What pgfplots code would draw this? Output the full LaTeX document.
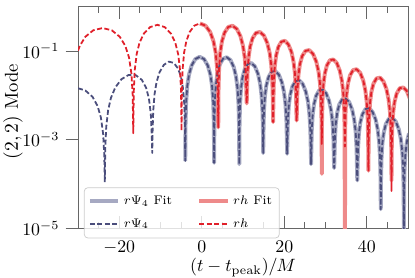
\documentclass[border=0pt]{standalone}
\usepackage{pgfplots}
\pgfplotsset{compat=1.18}
\usepackage{pgfplotstable}
\usetikzlibrary{calc}
\definecolor{psifit}{HTML}{A6A9C2}
\definecolor{psidat}{HTML}{4B4E7C}
\definecolor{hfit}{HTML}{EE8A8A}
\definecolor{hdat}{HTML}{E0202A}

% r h : data (y) and fit (yf)
\pgfplotstableread{
t y yf
-30.00 0.102 nan
-29.56 0.131 nan
-28.22 0.210 nan
-26.29 0.294 nan
-24.05 0.330 nan
-21.82 0.294 nan
-19.88 0.210 nan
-18.54 0.131 nan
-17.64 0.072 nan
-17.05 0.031 nan
-16.75 0.0104 nan
-16.60 0.0014 nan
-16.48 0.0122 nan
-16.25 0.0367 nan
-15.78 0.085 nan
-15.08 0.155 nan
-14.03 0.248 nan
-12.51 0.347 nan
-10.75 0.390 nan
-8.99 0.347 nan
-7.47 0.248 nan
-6.42 0.155 nan
-5.72 0.085 nan
-5.25 0.0367 nan
-5.02 0.0122 nan
-4.90 0.0016 nan
-4.81 0.0132 nan
-4.63 0.0395 nan
-4.28 0.0916 nan
-3.74 0.167 nan
-2.94 0.268 nan
-1.79 0.374 nan
-0.45 0.420 0.420
0.89 0.374 0.374
2.04 0.268 0.268
2.84 0.167 0.167
3.38 0.0916 0.0916
3.73 0.0395 0.0395
3.91 0.0132 0.0132
4.00 0.0019 0.0019
4.07 0.0137 0.0137
4.21 0.0406 0.0406
4.48 0.0928 0.0928
4.90 0.166 0.166
5.52 0.259 0.259
6.42 0.348 0.348
7.45 0.372 0.372
8.49 0.316 0.316
9.38 0.216 0.216
10.00 0.131 0.131
10.42 0.0707 0.0707
10.69 0.0301 0.0301
10.83 0.0100 0.0100
10.90 0.0066 0.0066
10.96 0.0105 0.0105
11.09 0.0312 0.0312
11.35 0.0710 0.0710
11.73 0.126 0.126
12.31 0.194 0.194
13.14 0.256 0.256
14.10 0.269 0.269
15.06 0.224 0.224
15.89 0.151 0.151
16.47 0.0907 0.0907
16.85 0.0485 0.0485
17.11 0.0206 0.0206
17.24 0.0068 0.0068
17.30 0.0025 0.0025
17.36 0.00669 0.00669
17.47 0.0199 0.0199
17.70 0.0451 0.0451
18.04 0.0799 0.0799
18.55 0.123 0.123
19.30 0.162 0.162
20.15 0.170 0.170
21.00 0.141 0.141
21.75 0.0951 0.0951
22.26 0.0569 0.0569
22.60 0.0304 0.0304
22.83 0.0129 0.0129
22.94 0.00425 0.00425
23.00 0.0027 0.0027
23.06 0.00422 0.00422
23.18 0.0125 0.0125
23.43 0.0283 0.0283
23.79 0.0501 0.0501
24.34 0.0768 0.0768
25.14 0.1006 0.1006
26.05 0.105 0.105
26.97 0.0865 0.0865
27.76 0.0578 0.0578
28.31 0.0345 0.0345
28.67 0.0184 0.0184
28.92 0.00777 0.00777
29.04 0.00257 0.00257
29.10 0.0008 0.00017
29.16 0.00258 0.00258
29.27 0.00765 0.00765
29.49 0.0174 0.0174
29.83 0.0307 0.0307
30.33 0.0472 0.0472
31.06 0.0619 0.0619
31.90 0.0646 0.0646
32.74 0.0535 0.0535
33.47 0.0358 0.0358
33.97 0.0214 0.0214
34.31 0.0114 0.0114
34.53 0.00483 0.00483
34.64 0.0016 0.0016
34.70 0.0007 0.0000001
34.76 0.00154 0.00154
34.87 0.00457 0.00457
35.10 0.0104 0.0104
35.44 0.0184 0.0184
35.95 0.0283 0.0283
36.70 0.0372 0.0372
37.55 0.0389 0.0389
38.40 0.0323 0.0323
39.15 0.0217 0.0217
39.66 0.0130 0.0130
40.00 0.00693 0.00693
40.23 0.00293 0.00293
40.34 0.00097 0.00097
40.40 0.0002 0.0002
40.46 0.0010 0.0010
40.57 0.00297 0.00297
40.79 0.00676 0.00676
41.13 0.0120 0.0120
41.63 0.0184 0.0184
42.36 0.0241 0.0241
43.20 0.0251 0.0251
44.04 0.0208 0.0208
44.77 0.0139 0.0139
45.27 0.0083 0.0083
45.61 0.00443 0.00443
45.83 0.00188 0.00188
45.94 0.00062 0.00062
46.00 0.00007 0.00012
46.06 0.0006 0.0006
46.17 0.00178 0.00178
46.40 0.00404 0.00404
46.74 0.00716 0.00716
47.25 0.0110 0.0110
48.00 0.0145 0.0145
48.85 0.0151 0.0151
49.70 0.01256 0.01256
50.45 0.00844 0.00844
}\htab

% r Psi_4 : data (fit drawn from t >= -4)
\pgfplotstableread{
t y
-30.00 0.01447
-28.23 0.0129
-26.47 0.00924
-25.26 0.00576
-24.45 0.00316
-23.91 0.00136
-23.64 0.000455
-23.50 0.00011
-23.39 0.00064
-23.16 0.00194
-22.70 0.00462
-22.01 0.00879
-20.97 0.0150
-19.48 0.0231
-17.75 0.0288
-16.03 0.0286
-14.53 0.0224
-13.50 0.0149
-12.81 0.00855
-12.35 0.0038
-12.12 0.00128
-12.00 0.0005
-11.92 0.00151
-11.76 0.00455
-11.44 0.0107
-10.96 0.0199
-10.24 0.0331
-9.20 0.0486
-8.00 0.0575
-6.80 0.0542
-5.76 0.0406
-5.04 0.0262
-4.56 0.0147
-4.24 0.00644
-4.08 0.00216
-4.00 0.00033
-3.93 0.00232
-3.79 0.00696
-3.51 0.0161
-3.09 0.0294
-2.46 0.0471
-1.55 0.0659
-0.50 0.0740
0.55 0.0659
1.46 0.0471
2.09 0.0294
2.51 0.0161
2.79 0.00696
2.93 0.00232
3.00 0.0003
3.06 0.00252
3.18 0.00753
3.43 0.0173
3.79 0.0311
4.34 0.0490
5.14 0.0666
6.05 0.0724
6.97 0.0625
7.76 0.0434
8.31 0.0266
8.67 0.0144
8.92 0.00617
9.04 0.00205
9.10 0.00028
9.16 0.00203
9.27 0.00602
9.51 0.01376
9.85 0.0245
10.38 0.0380
11.13 0.0506
12.00 0.0537
12.87 0.0453
13.62 0.0308
14.15 0.0186
14.49 0.00996
14.73 0.00424
14.84 0.0014
14.90 0.0005
14.96 0.0014
15.07 0.00416
15.31 0.00946
15.65 0.01675
16.18 0.0257
16.93 0.0339
17.80 0.0355
18.67 0.0295
19.42 0.0198
19.95 0.01183
20.29 0.00632
20.53 0.00268
20.64 0.00089
20.70 0.00048
20.76 0.00087
20.87 0.00258
21.11 0.00586
21.45 0.01038
21.98 0.01594
22.73 0.02094
23.60 0.02188
24.47 0.01814
25.22 0.01217
25.75 0.00727
26.09 0.00388
26.33 0.00164
26.44 0.00054
26.50 0.00028
26.56 0.000535
26.67 0.00159
26.89 0.00361
27.23 0.00639
27.73 0.00982
28.46 0.01291
29.30 0.01349
30.14 0.01119
30.87 0.00752
31.37 0.00449
31.71 0.0024
31.93 0.00101
32.04 0.000335
32.10 0.00023
32.16 0.000338
32.27 0.0010
32.49 0.00228
32.83 0.00403
33.33 0.0062
34.06 0.00814
34.90 0.00851
35.74 0.00706
36.47 0.00475
36.97 0.00283
37.31 0.00151
37.53 0.00064
37.64 0.000212
37.70 0.00012
37.76 0.000204
37.87 0.000606
38.10 0.00138
38.44 0.00244
38.95 0.00374
39.70 0.00491
40.55 0.00513
41.40 0.00425
42.15 0.00285
42.66 0.0017
43.00 0.00089
43.23 0.00038
43.34 0.000127
43.40 0.000027
43.46 0.000122
43.57 0.000364
43.79 0.000826
44.13 0.00146
44.63 0.00225
45.36 0.00296
46.20 0.00309
47.04 0.00257
47.77 0.00172
48.27 0.00103
48.61 0.00054
48.83 0.00023
48.94 0.000077
49.00 0.000005
49.06 0.000076
49.17 0.000225
49.40 0.000512
49.74 0.000905
50.25 0.00139
}\psitab

\begin{document}
\begin{tikzpicture}
\begin{axis}[
  scale only axis, width=185.3pt, height=124.45pt,
  xmin=-30, xmax=50, ymode=log, ymin=1e-5, ymax=1,
  xtick={-20,0,20,40},
  minor xtick={-25,-15,-10,-5,5,10,15,25,30,35,45},
  ytick={1e-5,1e-3,1e-1}, yminorticks=false,
  xtick pos=both, ytick pos=left,
  xtick align=inside, ytick align=outside,
  major tick length=7pt, minor tick length=3.6pt,
  axis line style={black!60, line width=0.55pt},
  every tick/.style={black!60, line width=0.55pt},
  tick label style={font=\fontsize{10}{12}\selectfont},
  xlabel={$(t-t_{\mathrm{peak}})/M$},
  ylabel={$(2,2)$ Mode},
  xlabel style={font=\fontsize{10}{12}\selectfont, at={(rel axis cs:0.5,0)}, anchor=center, yshift=-22pt},
  ylabel style={font=\fontsize{10.5}{12.5}\selectfont, at={(rel axis cs:0,0.527)}, anchor=center, yshift=36.5pt},
  xticklabel style={yshift=-3.5pt},
  legend columns=2,
  legend cell align=left,
  legend image code/.code={\draw[#1] (0pt,0pt) -- (16pt,0pt);},
  legend style={at={(axis description cs:0.018,-0.045)}, anchor=south west,
    draw=black!20, rounded corners=2pt, fill=white, fill opacity=0.8, text opacity=1,
    font=\fontsize{7}{8}\selectfont, inner xsep=2pt, inner ysep=2.5pt,
    /tikz/every even column/.append style={column sep=12pt},
    row sep=2.5pt},
]
\addplot[psifit, line width=2.2pt, line join=round, restrict x to domain=-4.05:60] table[x=t,y=y] {\psitab};
\addlegendentry{$r\Psi_4$ Fit}
\addplot[hfit, line width=2.2pt, line join=round, unbounded coords=discard] table[x=t,y=yf] {\htab};
\addlegendentry{$rh$ Fit}
\addplot[psidat, line width=1pt, line join=round, dash pattern=on 2.8pt off 1.4pt] table[x=t,y=y] {\psitab};
\addlegendentry{$r\Psi_4$}
\addplot[hdat, line width=1pt, line join=round, dash pattern=on 2.8pt off 1.4pt] table[x=t,y=y] {\htab};
\addlegendentry{$rh$}
\coordinate (SWc) at (rel axis cs:0,0);
\coordinate (NEc) at (rel axis cs:1,1);
\end{axis}
\pgfresetboundingbox
\path ($(SWc)+(-43.8pt,-27.35pt)$) rectangle ($(NEc)+(3.93pt,3.76pt)$);
\end{tikzpicture}
\end{document}
